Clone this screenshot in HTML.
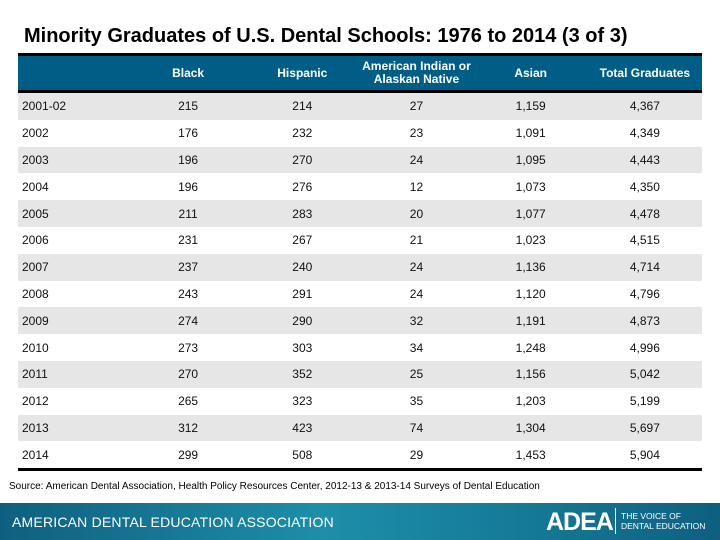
<!DOCTYPE html>
<html><head><meta charset="utf-8"><style>
body{margin:0;width:720px;height:540px;background:#fff;position:relative;overflow:hidden;font-family:"Liberation Sans",Arial,sans-serif}
#title{position:absolute;left:24px;top:25px;font-size:20px;font-weight:bold;color:#000;white-space:nowrap}
#tbl{position:absolute;left:18px;top:53px;width:684px;border-collapse:collapse;table-layout:fixed}
#tbl th{background:#005e86;color:#fff;font-size:12px;font-weight:bold;height:34px;padding:0;line-height:13px;border-top:3px solid #000;border-bottom:3px solid #000}
#tbl td{font-size:12px;color:#111;height:26.8px;padding:0;text-align:center}
#tbl td:first-child{text-align:left;padding-left:4px}
#tbl tr.g td{background:#e6e6e6}
#tbl tr:last-child td{border-bottom:3px solid #000}
#src{position:absolute;left:9px;top:481px;font-size:10px;color:#000}
#foot{position:absolute;left:0;top:503px;width:720px;height:37px;background:linear-gradient(90deg,#0f5f80 0%,#1d8fa8 45%,#147894 75%,#0e5f80 100%)}
#org{position:absolute;left:12px;top:11px;color:#fff;font-size:14px;letter-spacing:0.2px}
#adea{position:absolute;left:546px;top:5px;color:#fff;font-size:25px;font-weight:bold;letter-spacing:-1px}
#bar{position:absolute;left:615px;top:5px;width:1px;height:26px;background:#fff}
#tag{position:absolute;left:621px;top:8px;color:#fff;font-size:8.5px;line-height:10px}
</style></head><body>
<div id="title">Minority Graduates of U.S. Dental Schools: 1976 to 2014 (3 of 3)</div>
<table id="tbl">
<colgroup><col style="width:113px"><col><col><col><col><col></colgroup>
<thead><tr><th></th><th>Black</th><th>Hispanic</th><th>American Indian or<br>Alaskan Native</th><th>Asian</th><th>Total Graduates</th></tr></thead>
<tbody>
<tr class="g"><td>2001-02</td><td>215</td><td>214</td><td>27</td><td>1,159</td><td>4,367</td></tr>
<tr><td>2002</td><td>176</td><td>232</td><td>23</td><td>1,091</td><td>4,349</td></tr>
<tr class="g"><td>2003</td><td>196</td><td>270</td><td>24</td><td>1,095</td><td>4,443</td></tr>
<tr><td>2004</td><td>196</td><td>276</td><td>12</td><td>1,073</td><td>4,350</td></tr>
<tr class="g"><td>2005</td><td>211</td><td>283</td><td>20</td><td>1,077</td><td>4,478</td></tr>
<tr><td>2006</td><td>231</td><td>267</td><td>21</td><td>1,023</td><td>4,515</td></tr>
<tr class="g"><td>2007</td><td>237</td><td>240</td><td>24</td><td>1,136</td><td>4,714</td></tr>
<tr><td>2008</td><td>243</td><td>291</td><td>24</td><td>1,120</td><td>4,796</td></tr>
<tr class="g"><td>2009</td><td>274</td><td>290</td><td>32</td><td>1,191</td><td>4,873</td></tr>
<tr><td>2010</td><td>273</td><td>303</td><td>34</td><td>1,248</td><td>4,996</td></tr>
<tr class="g"><td>2011</td><td>270</td><td>352</td><td>25</td><td>1,156</td><td>5,042</td></tr>
<tr><td>2012</td><td>265</td><td>323</td><td>35</td><td>1,203</td><td>5,199</td></tr>
<tr class="g"><td>2013</td><td>312</td><td>423</td><td>74</td><td>1,304</td><td>5,697</td></tr>
<tr><td>2014</td><td>299</td><td>508</td><td>29</td><td>1,453</td><td>5,904</td></tr>
</tbody></table>
<div id="src">Source: American Dental Association, Health Policy Resources Center, 2012-13 &amp; 2013-14 Surveys of Dental Education</div>
<div id="foot">
<div id="org">AMERICAN DENTAL EDUCATION ASSOCIATION</div>
<div id="adea">ADEA</div>
<div id="bar"></div>
<div id="tag">THE VOICE OF<br>DENTAL EDUCATION</div>
</div>
</body></html>
